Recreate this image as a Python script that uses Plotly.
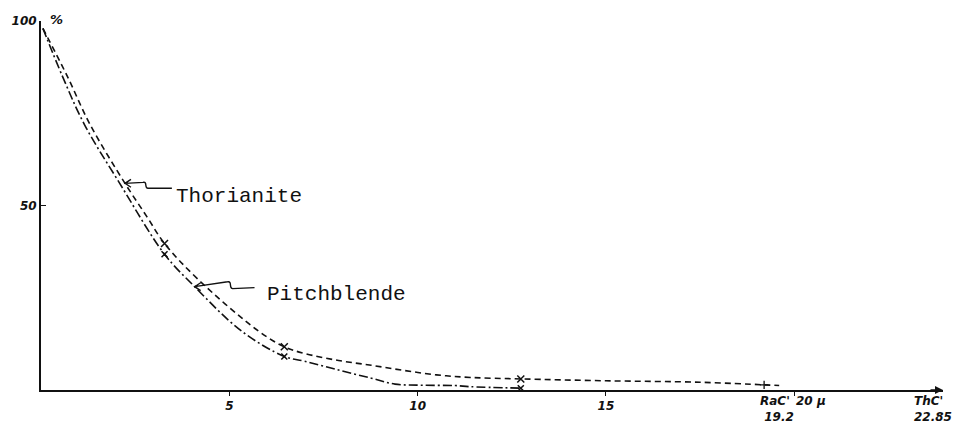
import plotly.graph_objects as go

# Absorption curves: percentage of alpha particles vs. absorber thickness (mu)
thor_x = [0.05, 0.7, 1.3, 2.23, 2.81, 3.28, 4.19, 5.77, 6.46, 7.0, 7.9, 8.77,
          9.64, 10.5, 11.4, 12.74, 15.0, 17.5, 19.2, 19.6]
thor_y = [98, 85, 72, 56, 47.0, 39.7, 29.8, 16.0, 11.7, 9.9, 8.0, 6.7,
          5.3, 4.1, 3.4, 3.0, 2.5, 2.1, 1.4, 1.2]

pitch_x = [0.05, 0.57, 1.15, 2.09, 3.28, 4.08, 5.32, 6.46, 7.0, 7.9,
           8.77, 9.4, 10.1, 11.0, 11.4, 12.74]
pitch_y = [98, 85, 72, 56, 36.8, 28.0, 16.0, 9.1, 7.8, 5.4,
           3.2, 1.6, 1.3, 1.2, 0.9, 0.5]

# measured points marked with crosses
thor_marks = [3.28, 6.46, 12.74]
pitch_marks = [3.28, 6.46, 12.74]
rac_range = 19.2
thc_range = 22.85

x_ticks = [5, 10, 15, 20]
x_ticktext = ["5", "10", "15", ""]
y_ticks = [50, 100]
y_ticktext = ["50", "100"]

W, H = 967, 425
ML, MR, MT, MB = 39, 24, 21, 27
X_MAX = 23.95
Y_MAX = 100
px_x = X_MAX / (W - ML - MR)
px_y = Y_MAX / (H - MT - MB)

ink = "#111111"
hand = "Liberation Mono"
num_font = dict(family="DejaVu Sans", size=12, color=ink, style="italic", weight="bold")

fig = go.Figure()

fig.add_trace(go.Scatter(
    x=thor_x, y=thor_y, mode="lines", name="Thorianite",
    line=dict(color=ink, width=1.6, dash="6px,4px", shape="spline", smoothing=1.0),
    hoverinfo="skip"))
fig.add_trace(go.Scatter(
    x=pitch_x, y=pitch_y, mode="lines", name="Pitchblende",
    line=dict(color=ink, width=1.6, dash="9px,3px,2px,3px", shape="spline", smoothing=1.0),
    hoverinfo="skip"))

fig.add_trace(go.Scatter(
    x=thor_marks, y=[thor_y[thor_x.index(v)] for v in thor_marks],
    mode="markers", marker=dict(symbol="x-thin", size=7, line=dict(width=1.5, color=ink)),
    hoverinfo="skip"))
fig.add_trace(go.Scatter(
    x=pitch_marks, y=[pitch_y[pitch_x.index(v)] for v in pitch_marks],
    mode="markers", marker=dict(symbol="x-thin", size=6, line=dict(width=1.5, color=ink)),
    hoverinfo="skip"))
fig.add_trace(go.Scatter(
    x=[rac_range], y=[thor_y[thor_x.index(rac_range)]],
    mode="markers", marker=dict(symbol="cross-thin", size=6, line=dict(width=1.3, color=ink)),
    hoverinfo="skip"))


def pointer_path(tx, ty, pts):
    """Wavy pointer with an open arrowhead; pts are pixel offsets (right, down) from the tip."""
    def p(dx, dy):
        return f"{tx + dx * px_x},{ty - dy * px_y}"
    d = f"M {p(6, -4)} L {p(0, 0)} L {p(6, 4)} M {p(0, 0)}"
    (ax, ay), (bx, by), (cx, cy) = pts
    d += f" L {p(ax, ay)} C {p(ax + 5, ay - 1)} {p(bx - 4, by)} {p(bx, by)} L {p(cx, cy)}"
    return d


thor_tip = (thor_x[3], thor_y[3])
pitch_tip = (pitch_x[5], pitch_y[5])

for tip, pts in [(thor_tip, [(18, -1), (23, 5), (47, 5)]),
                 (pitch_tip, [(33, -5), (38, 2), (60, 1)])]:
    fig.add_shape(type="path", path=pointer_path(tip[0], tip[1], pts),
                  line=dict(color=ink, width=1.4), xref="x", yref="y")

annotations = [
    dict(x=thor_tip[0], y=thor_tip[1], text="Thorianite", xshift=49, yshift=-13,
         xanchor="left", yanchor="middle", font=dict(family=hand, size=21, color=ink)),
    dict(x=pitch_tip[0], y=pitch_tip[1], text="Pitchblende", xshift=70, yshift=-8,
         xanchor="left", yanchor="middle", font=dict(family=hand, size=21, color=ink)),
    dict(x=0, y=100, text="%", xshift=7, yshift=2, xanchor="left", yanchor="middle",
         font=dict(num_font, size=13)),
    dict(x=rac_range, y=0, text=f"RaC'<br> {rac_range}", xshift=-6, yshift=-2,
         xanchor="left", yanchor="top", align="left", font=num_font),
    dict(x=20, y=0, text="20 \u03bc", xshift=0, yshift=-2, xanchor="left",
         yanchor="top", font=num_font),
    dict(x=X_MAX, y=0, text=f"ThC'<br>{thc_range}", xshift=-31, yshift=-2,
         xanchor="left", yanchor="top", align="left", font=num_font),
    # arrowhead closing the thickness axis
    dict(x=X_MAX, y=0, ax=-14, ay=0, text="", showarrow=True, arrowhead=2,
         arrowsize=1, arrowwidth=1.6, arrowcolor=ink, standoff=0),
]
for a in annotations:
    a.setdefault("showarrow", False)
    fig.add_annotation(**a)

fig.update_layout(
    width=W, height=H,
    margin=dict(l=ML, r=MR, t=MT, b=MB),
    paper_bgcolor="white", plot_bgcolor="white",
    showlegend=False,
    xaxis=dict(range=[0, X_MAX], showline=True, linecolor=ink, linewidth=2,
               showgrid=False, zeroline=False, tickvals=x_ticks, ticktext=x_ticktext,
               ticks="outside", ticklen=4, tickwidth=1.4, tickcolor=ink,
               tickfont=num_font, fixedrange=True),
    yaxis=dict(range=[0, Y_MAX], showline=True, linecolor=ink, linewidth=2,
               showgrid=False, zeroline=False, tickvals=y_ticks, ticktext=y_ticktext,
               ticks="inside", ticklen=5, tickwidth=1.4, tickcolor=ink,
               tickfont=num_font, fixedrange=True),
)

fig.write_html("out.html")
